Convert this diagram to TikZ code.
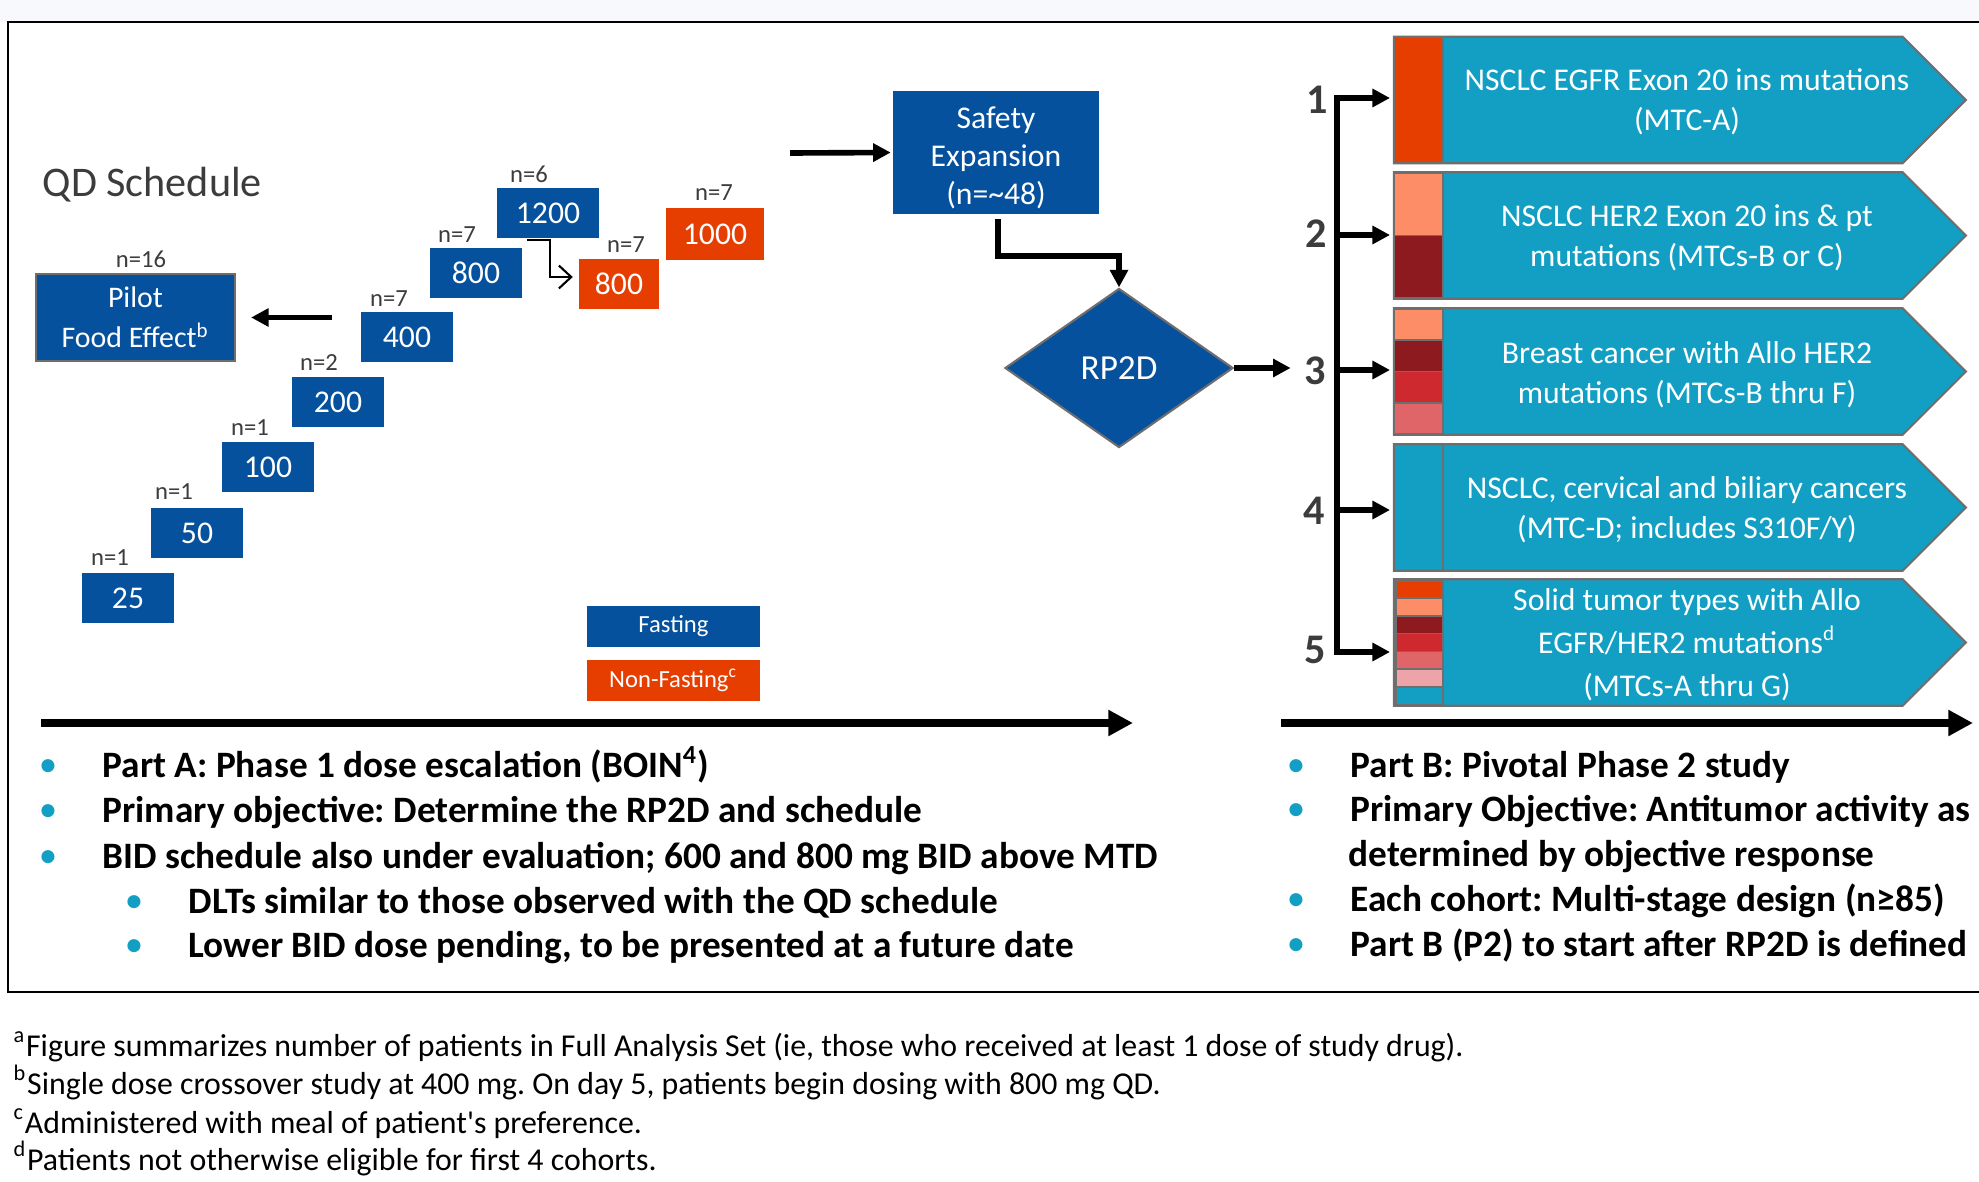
\documentclass[tikz,border=0pt]{standalone}
\usepackage{fontspec}
\setmainfont{Carlito}
\usetikzlibrary{arrows.meta,shapes.geometric}
\frenchspacing

\definecolor{qdblue}{RGB}{5,81,158}
\definecolor{nforange}{RGB}{229,62,0}
\definecolor{cohteal}{RGB}{19,159,196}
\definecolor{mtcsalmon}{RGB}{253,141,103}
\definecolor{mtcdark}{RGB}{141,26,30}
\definecolor{mtcred}{RGB}{205,41,46}
\definecolor{mtcpink}{RGB}{224,101,104}
\definecolor{mtclight}{RGB}{236,164,168}
\definecolor{labgrey}{RGB}{60,60,60}
\definecolor{edgegrey}{RGB}{110,110,110}
\definecolor{topstrip}{RGB}{248,249,252}

\begin{document}
\begin{tikzpicture}[x=0.01cm,y=-0.01cm,
	dose/.style={fill=qdblue,text=white,inner sep=0pt,minimum width=0.91cm,minimum height=0.5cm,font=\fontsize{9}{11}\selectfont},
	nfdose/.style={dose,fill=nforange},
	nlab/.style={text=labgrey,inner sep=0pt,font=\fontsize{7}{8}\selectfont},
	fatarrow/.style={line width=1.6pt,line cap=rect,-{Triangle[length=5pt,width=5pt]}},
	axisarrow/.style={line width=2pt,-{Triangle[length=7pt,width=7pt]}},
	cohbox/.style={rectangle,anchor=west,minimum width=5.07cm,minimum height=1.25cm,inner sep=0pt},
	cohfill/.style={fill=cohteal,draw=edgegrey,line width=0.6pt},
	stripe/.style={draw=edgegrey,line width=0.5pt},
	cohtext/.style={text=white,align=center,inner sep=0pt,font=\fontsize{9}{11.4}\selectfont},
	armnum/.style={text=labgrey,inner sep=0pt,font=\bfseries\fontsize{12}{14}\selectfont},
	bulletdot/.style={text=cohteal,inner sep=0pt,anchor=base,font=\fontsize{10.5}{12}\selectfont},
	bullettext/.style={anchor=base west,inner sep=0pt,font=\bfseries\fontsize{10.6}{12}\selectfont},
	footnote/.style={anchor=base west,inner sep=0pt,font=\fontsize{9.05}{11}\selectfont}]
	\useasboundingbox (0,0) rectangle (1979,1182);
	\fill[topstrip] (0,0) rectangle (1979,22);
	\draw[line width=0.8pt] (8,22) rectangle (1995,992);

	% Part A: dose escalation
	\node[anchor=base west,inner sep=0pt,text=labgrey,font=\fontsize{12}{14}\selectfont] (qdtitle) at (42,196) {QD Schedule};
	\node[dose] (d25) at (128,598) {25};
	\node[dose] (d50) at (197,533) {50};
	\node[dose] (d100) at (268,467) {100};
	\node[dose] (d200) at (338,402) {200};
	\node[dose] (d400) at (407,337) {400};
	\node[dose] (d800) at (476,273) {800};
	\node[dose,minimum width=1.01cm] (d1200) at (548,213) {1200};
	\node[nfdose,minimum width=0.79cm] (o800) at (619,284) {800};
	\node[nfdose,minimum width=0.98cm,minimum height=0.52cm] (o1000) at (715,234) {1000};

	\node[nlab] (n25) at (110,558) {n=1};
	\node[nlab] (n50) at (174,492) {n=1};
	\node[nlab] (n100) at (250,428) {n=1};
	\node[nlab] (n200) at (319,363) {n=2};
	\node[nlab] (n400) at (389,299) {n=7};
	\node[nlab] (n800) at (457,235) {n=7};
	\node[nlab] (n1200) at (529,174) {n=6};
	\node[nlab] (no800) at (626,245) {n=7};
	\node[nlab] (no1000) at (714,193) {n=7};
	\node[nlab] (npilot) at (141,259) {n=16};

	\node[fill=qdblue,draw=edgegrey,line width=0.6pt,text=white,minimum width=1.99cm,minimum height=0.87cm,inner sep=0pt,align=center,font=\fontsize{8.5}{11.4}\selectfont] (pilot) at (135.5,317.5) {Pilot\\Food Effect\textsuperscript{b}};
	\draw[fatarrow,line cap=butt,shorten <=0.29cm,shorten >=0.15cm] (d400.west |- pilot.east) -- (pilot.east);
	\draw[line width=0.6pt,-{Straight Barb[length=3.5pt,width=6.5pt]}] ([xshift=-0.21cm,yshift=-0.015cm]d1200.south) -- ++(23,0) |- ([xshift=-0.06cm,yshift=0.07cm]o800.west);

	\node[fill=qdblue,text=white,minimum width=1.73cm,minimum height=0.41cm,inner sep=0pt,font=\fontsize{7}{8}\selectfont] (fasting) at (673.5,626.5) {Fasting};
	\node[fill=nforange,text=white,minimum width=1.73cm,minimum height=0.41cm,inner sep=0pt,font=\fontsize{7}{8}\selectfont] (nonfasting) at (673.5,680.5) {Non-Fasting\textsuperscript{c}};

	% safety expansion and RP2D
	\node[fill=qdblue,minimum width=2.05cm,minimum height=1.23cm,inner sep=0pt] (safety) at (996,152.5) {};
	\node[text=white,inner sep=0pt,align=center,font=\fontsize{9}{10.8}\selectfont] (safetytxt) at (996,158) {Safety\\Expansion\\(n=\textasciitilde48)};
	\coordinate (escend) at (790,153);
	\draw[fatarrow,line cap=butt,shorten >=0.02cm] (escend) -- (safety.west);
	\node[diamond,aspect=1.43,fill=qdblue,draw=edgegrey,line width=0.6pt,text=white,minimum width=2.28cm,minimum height=1.59cm,inner sep=0pt,font=\fontsize{10}{12}\selectfont] (rp2d) at (1119,368) {\raisebox{-0.8pt}{RP2D}};
	\draw[fatarrow,line cap=butt] ([xshift=0.02cm,yshift=-0.04cm]safety.south) -- ++(0,37) -| (rp2d.north);

	% Part B: cohorts
	\node[armnum] (arm1) at (1317,100) {1};
	\node[armnum] (arm2) at (1316,234) {2};
	\node[armnum] (arm3) at (1315,371) {3};
	\node[armnum] (arm4) at (1314,511) {4};
	\node[armnum] (arm5) at (1315,650) {5};
	\draw[fatarrow,line cap=butt,shorten >=0.13cm] (rp2d.east) -- (rp2d.east -| arm3.west);

	\node[cohbox] (coh1) at (1394,100) {};
	\node[cohbox] (coh2) at (1394,235.5) {};
	\node[cohbox] (coh3) at (1394,371.5) {};
	\node[cohbox] (coh4) at (1394,507.5) {};
	\node[cohbox] (coh5) at (1394,642.5) {};
	\draw[cohfill] (coh1.north west) -- (coh1.north east) -- ([xshift=0.63cm]coh1.east) -- (coh1.south east) -- (coh1.south west) -- cycle;
	\draw[cohfill] (coh2.north west) -- (coh2.north east) -- ([xshift=0.63cm]coh2.east) -- (coh2.south east) -- (coh2.south west) -- cycle;
	\draw[cohfill] (coh3.north west) -- (coh3.north east) -- ([xshift=0.63cm]coh3.east) -- (coh3.south east) -- (coh3.south west) -- cycle;
	\draw[cohfill] (coh4.north west) -- (coh4.north east) -- ([xshift=0.63cm]coh4.east) -- (coh4.south east) -- (coh4.south west) -- cycle;
	\draw[cohfill] (coh5.north west) -- (coh5.north east) -- ([xshift=0.63cm]coh5.east) -- (coh5.south east) -- (coh5.south west) -- cycle;

	\draw[stripe,fill=nforange] (1394,37.5) rectangle (1443,162.5);
	\draw[stripe,fill=mtcsalmon] (1394,173) rectangle (1443,235.5);
	\draw[stripe,fill=mtcdark] (1394,235.5) rectangle (1443,298);
	\draw[stripe,fill=mtcsalmon] (1394,309) rectangle (1443,340.25);
	\draw[stripe,fill=mtcdark] (1394,340.25) rectangle (1443,371.5);
	\draw[stripe,fill=mtcred] (1394,371.5) rectangle (1443,402.75);
	\draw[stripe,fill=mtcpink] (1394,402.75) rectangle (1443,434);
	\draw[stripe] (1443,445) -- (1443,570);
	\draw[stripe,fill=nforange] (1396,581) rectangle (1443,597.9);
	\draw[stripe,fill=mtcsalmon] (1396,597.9) rectangle (1443,615.7);
	\draw[stripe,fill=mtcdark] (1396,615.7) rectangle (1443,633.6);
	\draw[stripe,fill=mtcred] (1396,633.6) rectangle (1443,651.4);
	\draw[stripe,fill=mtcpink] (1396,651.4) rectangle (1443,669.3);
	\draw[stripe,fill=mtclight] (1396,669.3) rectangle (1443,687.1);
	\draw[stripe,fill=cohteal] (1396,687.1) rectangle (1443,705);

	\node[cohtext] (txt1) at (1687,102) {NSCLC EGFR Exon 20 ins mutations\\(MTC-A)};
	\node[cohtext] (txt2) at (1687,238) {NSCLC HER2 Exon 20 ins \& pt\\mutations (MTCs-B or C)};
	\node[cohtext] (txt3) at (1687,374.5) {Breast cancer with Allo HER2\\mutations (MTCs-B thru F)};
	\node[cohtext] (txt4) at (1687,510) {NSCLC, cervical and biliary cancers\\(MTC-D; includes S310F/Y)};
	\node[cohtext,font=\fontsize{9}{12.2}\selectfont] (txt5) at (1687,645) {Solid tumor types with Allo\\EGFR/HER2 mutations\textsuperscript{d}\\(MTCs-A thru G)};

	\coordinate (br1) at (1337,98);
	\coordinate (br2) at (1337,235);
	\coordinate (br3) at (1337,370);
	\coordinate (br4) at (1337,510);
	\coordinate (br5) at (1337,652);
	\draw[line width=1.6pt,line cap=rect] (br1) -- (br5);
	\draw[fatarrow,shorten >=0.04cm] (br1) -- (br1 -| coh1.west);
	\draw[fatarrow,shorten >=0.04cm] (br2) -- (br2 -| coh2.west);
	\draw[fatarrow,shorten >=0.04cm] (br3) -- (br3 -| coh3.west);
	\draw[fatarrow,shorten >=0.04cm] (br4) -- (br4 -| coh4.west);
	\draw[fatarrow,shorten >=0.04cm] (br5) -- (br5 -| coh5.west);

	% time axes
	\coordinate (partAstart) at (41,723);
	\coordinate (partAend) at (1133,723);
	\coordinate (partBstart) at (1281,723);
	\coordinate (partBend) at (1973,723);
	\draw[axisarrow] (partAstart) -- (partAend);
	\draw[axisarrow] (partBstart) -- (partBend);

	% bullets
	\node[bulletdot] (ba1) at (48,776) {•};
	\node[bulletdot] (ba2) at (48,821) {•};
	\node[bulletdot] (ba3) at (48,867) {•};
	\node[bulletdot] (ba4) at (134,912) {•};
	\node[bulletdot] (ba5) at (134,956) {•};
	\node[bullettext] (ta1) at (102,777) {Part A: Phase 1 dose escalation (BOIN\textsuperscript{4})};
	\node[bullettext] (ta2) at (102,822) {Primary objective: Determine the RP2D and schedule};
	\node[bullettext] (ta3) at (102,868) {BID schedule also under evaluation; 600 and 800 mg BID above MTD};
	\node[bullettext] (ta4) at (188,913) {DLTs similar to those observed with the QD schedule};
	\node[bullettext] (ta5) at (188,957) {Lower BID dose pending, to be presented at a future date};

	\node[bulletdot] (bb1) at (1296,776) {•};
	\node[bulletdot] (bb2) at (1296,820) {•};
	\node[bulletdot] (bb4) at (1296,910) {•};
	\node[bulletdot] (bb5) at (1296,955) {•};
	\node[bullettext] (tb1) at (1350,777) {Part B: Pivotal Phase 2 study};
	\node[bullettext] (tb2) at (1350,821) {Primary Objective: Antitumor activity as};
	\node[bullettext] (tb3) at (1348,866) {determined by objective response};
	\node[bullettext] (tb4) at (1350,911) {Each cohort: Multi-stage design (n≥85)};
	\node[bullettext] (tb5) at (1350,956) {Part B (P2) to start after RP2D is defined};

	% footnotes
	\node[footnote] (fna) at (13,1056) {\textsuperscript{a}Figure summarizes number of patients in Full Analysis Set (ie, those who received at least 1 dose of study drug).};
	\node[footnote] (fnb) at (13,1094) {\textsuperscript{b}Single dose crossover study at 400 mg. On day 5, patients begin dosing with 800 mg QD.};
	\node[footnote] (fnc) at (13,1133) {\textsuperscript{c}Administered with meal of patient\textquotesingle s preference.};
	\node[footnote] (fnd) at (13,1170) {\textsuperscript{d}Patients not otherwise eligible for first 4 cohorts.};
\end{tikzpicture}
\end{document}
